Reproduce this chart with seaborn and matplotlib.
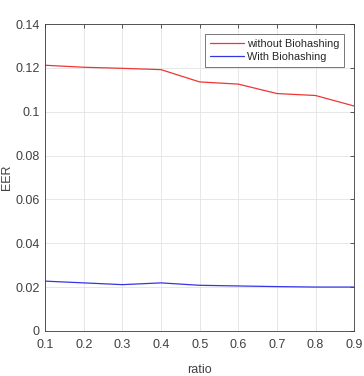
import numpy as np
import pandas as pd
import matplotlib
matplotlib.use("Agg")
import matplotlib.pyplot as plt
import seaborn as sns

# values
ratio = [0.1, 0.2, 0.3, 0.4, 0.5, 0.6, 0.7, 0.8, 0.9]
eer_without = [0.1212, 0.1203, 0.1198, 0.1192, 0.1136, 0.1126, 0.1083, 0.1074, 0.1026]
eer_with = [0.0227, 0.0219, 0.0211, 0.0219, 0.0208, 0.0205, 0.0202, 0.0200, 0.0200]
series_names = ["without Biohashing", "With Biohashing"]

df = pd.DataFrame({
    "ratio": ratio * 2,
    "EER": eer_without + eer_with,
    "series": [series_names[0]] * len(ratio) + [series_names[1]] * len(ratio),
})

sns.set_style("white")
plt.rcParams["font.family"] = ["Liberation Sans", "DejaVu Sans"]

txt = "#404040"

fig = plt.figure(figsize=(3.64, 3.76), dpi=100)
ax = fig.add_axes([0.124, 0.12, 0.849, 0.816])

sns.lineplot(data=df, x="ratio", y="EER", hue="series",
             palette=["#f03535", "#3535e8"], linewidth=0.9, ax=ax)

ax.set_xlim(0.1, 0.9)
ax.set_ylim(0, 0.14)
ax.set_xticks(ratio)
ax.set_xticklabels([f"{v:g}" for v in ratio])
ax.set_yticks(np.arange(0, 0.141, 0.02))
ax.set_yticklabels(["0", "0.02", "0.04", "0.06", "0.08", "0.1", "0.12", "0.14"])

ax.grid(True, color="#e3e3e3", linewidth=0.6)
for s in ax.spines.values():
    s.set_color("#3a3a3a")
    s.set_linewidth(0.6)
ax.tick_params(direction="in", length=3, width=0.6, colors="#3a3a3a",
               labelcolor=txt, labelsize=9, top=True, right=True)
ax.tick_params(axis="x", pad=6)
ax.tick_params(axis="y", pad=4)

ax.set_xlabel("ratio", fontsize=9, color=txt, labelpad=9)
ax.set_ylabel("EER", fontsize=9, color=txt)
ax.yaxis.set_label_coords(-0.103, 0.5)

leg = ax.legend(loc="upper right", fontsize=7.8, frameon=True, fancybox=False,
                handlelength=3.2, handletextpad=0.25, borderpad=0.45,
                labelspacing=0.3, borderaxespad=0.9)
leg.get_frame().set_edgecolor("#3a3a3a")
leg.get_frame().set_linewidth(0.6)
for t in leg.get_texts():
    t.set_color("#262626")
for line in leg.get_lines():
    line.set_linewidth(0.9)

fig.savefig("out.png", dpi=100)
